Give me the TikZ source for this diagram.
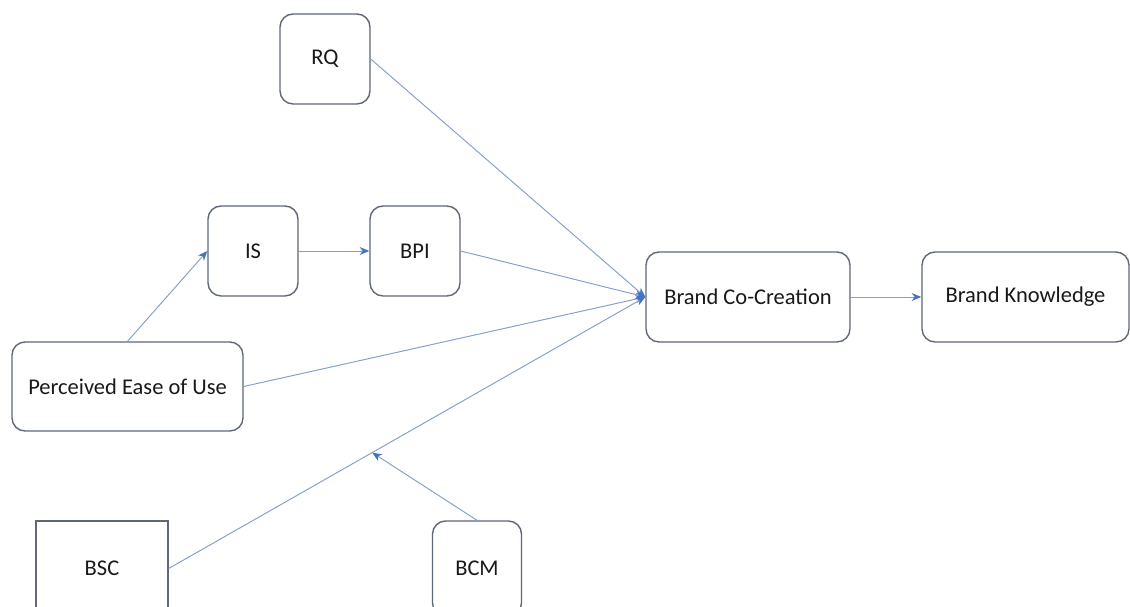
\documentclass[tikz,border=0pt]{standalone}
\usepackage{fontspec}
\setmainfont{Carlito}
\usetikzlibrary{arrows.meta}
\definecolor{edgeblue}{RGB}{135,158,205}
\definecolor{tipblue}{RGB}{68,114,196}
\definecolor{boxgray}{RGB}{95,103,120}
\definecolor{txt}{RGB}{25,25,25}
\tikzset{
  box/.style={draw=boxgray,line width=.8pt,rounded corners=.26cm,fill=white,text=txt,minimum width=1.8cm,minimum height=1.8cm,inner sep=0pt},
  flat/.style={box,rounded corners=0pt},
  link/.style={draw=edgeblue,line width=.55pt,-{Stealth[length=5.5pt,width=4.5pt,color=tipblue]}}
}
\begin{document}
\begin{tikzpicture}[x=.02cm,y=-.02cm,font=\fontsize{12.8}{15}\selectfont]
\useasboundingbox(0,0)rectangle(1130,607);\clip(0,0)rectangle(1130,607);
\node[box](RQ)at(325,59){RQ};\node[box](IS)at(253,251){IS};\node[box](BPI)at(415,251){BPI};
\node[box,minimum width=4.62cm,minimum height=1.78cm](PEOU)at(127.5,386.5){Perceived Ease of Use};
\node[box,minimum width=4.08cm](BCC)at(748,297){Brand Co-Creation};
\node[box,minimum width=4.14cm](BK)at(1025.5,297){Brand Knowledge};
\node[flat,minimum width=2.64cm,minimum height=1.9cm](BSC)at(102,568.5){BSC};
\node[box,minimum width=1.78cm,minimum height=1.9cm](BCM)at(477,568.5){BCM};
\path(BSC.east)--(BCC.west)coordinate[pos=.427](mod);
\foreach\a in{RQ,BPI,PEOU,BSC}{\draw[link](\a.east)--(BCC.west);}
\draw[link](PEOU.north)--(IS.west);\draw[link](IS)--(BPI);\draw[link](BCC)--(BK);
\draw[link](BCM.north)--(mod);
\end{tikzpicture}
\end{document}
